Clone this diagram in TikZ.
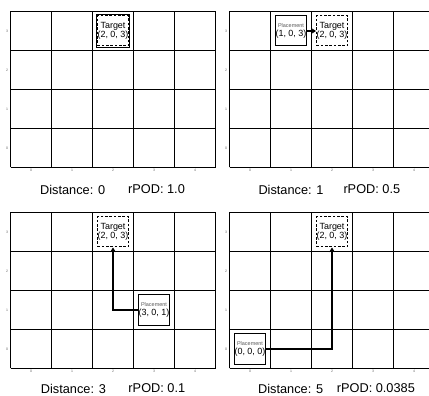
\documentclass[tikz,border=0pt]{standalone}
\usepackage{fontspec}
\setmainfont{Liberation Sans}
\usetikzlibrary{arrows.meta, calc}

% grid of one panel: 5 columns, 4 rows, with tick labels
\newcommand{\panelgrid}{%
  \draw [gridline] (0,0) grid (205.1,156.1);
  \foreach \c in {0,...,4} \node [tick] at ({(\c+0.5)*41},-2.5) {\c};
  \foreach \r in {0,...,3} \node [tick] at (-3.5,{(\r+0.5)*39}) {\r};
}
% small grey first line of a placement box
\newcommand{\placetext}{\textcolor{black!65}{\fontsize{5.5}{5.5}\selectfont Placement}}

\begin{document}
\begin{tikzpicture}[x=1bp, y=1bp]
\tikzstyle{gridline} = [line width=1.3bp, black, xstep=41, ystep=39]
\tikzstyle{target} = [rectangle, draw=black, dash pattern=on 2.5bp off 1.8bp, line width=1bp, minimum width=29bp, minimum height=30bp, inner sep=0pt, align=center, font=\fontsize{9}{9.5}\selectfont]
\tikzstyle{placement} = [rectangle, draw=black, line width=1bp, minimum width=30bp, minimum height=30bp, inner sep=0pt, align=center, font=\fontsize{9}{9.5}\selectfont]
\tikzstyle{tick} = [font=\fontsize{3.5}{4}\selectfont, text=black!60, inner sep=0pt]
\tikzstyle{caption} = [anchor=west, inner sep=0pt, font=\fontsize{12.8}{14}\selectfont]
\tikzstyle{arrow} = [line width=2.8bp, -{Stealth[length=4.5bp, width=5.5bp]}]
\clip (0,0) rectangle (429,396);
\fill [white] (0,0) rectangle (429,396);
%
% Panel 1: placement on top of the target
\begin{scope}[shift={(10.5,228.5)}]
\panelgrid
\node (t1) [target] at (102.5,136.5) {Target\\(2, 0, 3)};
\node (p1) [placement, line width=1.9bp, minimum width=33bp, minimum height=33bp] at (102.5,136.5) {};
\node (d1) [caption] at (29.5,-22) {Distance: 0};
\node (r1) [caption] at (117.5,-22) {rPOD: 1.0};
\end{scope}
%
% Panel 2: one cell away
\begin{scope}[shift={(229.5,228.5)}]
\panelgrid
\node (t2) [target] at (102.5,136.5) {Target\\(2, 0, 3)};
\node (p2) [placement] at (61.5,136.5) {\placetext\\(1, 0, 3)};
\draw [arrow] (p2) -- (t2);
\node (d2) [caption] at (28.8,-22) {Distance: 1};
\node (r2) [caption] at (113.8,-22) {rPOD: 0.5};
\end{scope}
%
% Panel 3: three cells away
\begin{scope}[shift={(10.5,27.5)}]
\panelgrid
\node (t3) [target] at (102.5,136.5) {Target\\(2, 0, 3)};
\node (p3) [placement] at (143.5,58.5) {\placetext\\(3, 0, 1)};
\draw [arrow] (p3.west) -| (t3.south);
\node (d3) [caption] at (30.2,-20) {Distance: 3};
\node (r3) [caption] at (117.8,-20) {rPOD: 0.1};
\end{scope}
%
% Panel 4: five cells away
\begin{scope}[shift={(229.5,27.5)}]
\panelgrid
\node (t4) [target] at (102.5,136.5) {Target\\(2, 0, 3)};
\node (p4) [placement] at (20.5,19.5) {\placetext\\(0, 0, 0)};
\draw [arrow] (p4.east) -| (t4.south);
\node (d4) [caption] at (28.5,-20) {Distance: 5};
\node (r4) [caption] at (107.2,-20) {rPOD: 0.0385};
\end{scope}
\end{tikzpicture}
\end{document}
